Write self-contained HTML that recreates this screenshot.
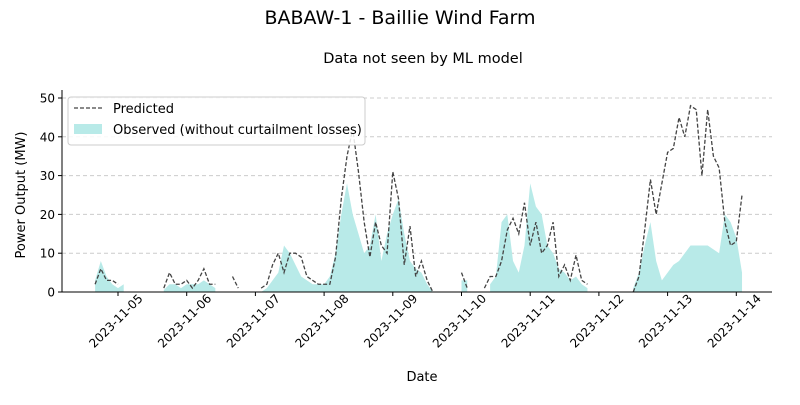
<!DOCTYPE html>
<html><head><meta charset="utf-8">
<style>
body{margin:0;background:#fff;}
svg{font-family:"DejaVu Sans","Liberation Sans",sans-serif;}
</style></head>
<body>
<svg id="chart" width="800" height="400" viewBox="0 0 800 400">
<text x="400" y="24" text-anchor="middle" font-size="19" fill="#000">BABAW-1 - Baillie Wind Farm</text>
<text x="423" y="63" text-anchor="middle" font-size="14.5" fill="#000">Data not seen by ML model</text>
<g id="grid"></g>
<g id="marks"></g>
<g id="axes"></g>
<text transform="translate(25,195) rotate(-90)" text-anchor="middle" font-size="13">Power Output (MW)</text>
<text x="422" y="381" text-anchor="middle" font-size="13">Date</text>
<g>
<rect x="68" y="97" width="297" height="48" rx="3" fill="#fff" fill-opacity="0.85" stroke="#ccc"/>
<line x1="74" y1="108" x2="102" y2="108" stroke="#444" stroke-width="1.3" stroke-dasharray="4,2"/>
<text x="113" y="113" font-size="13">Predicted</text>
<rect x="74" y="124" width="28" height="10" fill="#b8eae8"/>
<text x="113" y="134" font-size="13">Observed (without curtailment losses)</text>
</g>
</svg>
<script>
const startHour = 16; // hours since 2023-11-04 00:00
const stepHours = 2;
const predicted = [2,6,3,3,2,null,null,null,null,null,null,null,1,5,2,2,3,1,3,6,2,2,null,null,4,1,null,null,null,1,2,7,10,5,10,10,9,4,3,2,2,2,9,24,35,42,31,18,9,18,12,10,31,24,7,17,4,8,3,0,null,null,null,null,5,1,null,null,1,4,4,8,16,19,15,23,12,18,10,12,18,4,7,3,9.5,3,2,null,null,null,null,null,null,null,0,4,16,29,20,28,36,37,45,40,48,47,30,47,35,32,18,12,13,25];
const observed = [3,8,4,2,1,2,null,null,null,null,null,null,0.5,2,2,1,2,2,2,3,2,1,null,null,null,null,null,null,null,0,1,3,5,12,10,7,4,3,2,2,2,4,10,20,28,20,15,10,12,20,8,15,20,24,15,8,6,5,2,0,null,null,null,null,3,3,null,null,null,2,4,18,20,8,5,12,28,22,20,12,10,6,5,3,4,2,1,null,null,null,null,null,null,null,1,5,12,18,8,3,5,7,8,10,12,12,12,12,11,10,20,18,14,5];
const yTicks = [0,10,20,30,40,50];
const dateLabels = ["2023-11-05","2023-11-06","2023-11-07","2023-11-08","2023-11-09","2023-11-10","2023-11-11","2023-11-12","2023-11-13","2023-11-14"];

const NS="http://www.w3.org/2000/svg";
const X0=62,X1=772,Y0=292,Y50=98;
const xDay = d => 118 + (d-1)*68.7;      // d = days since Nov 4
const xHour = h => xDay(h/24);
const y = v => Y0 - v*(Y0-Y50)/50;
function mk(tag,attrs,parent){const e=document.createElementNS(NS,tag);for(const k in attrs)e.setAttribute(k,attrs[k]);parent.appendChild(e);return e;}
const grid=document.getElementById('grid'),marks=document.getElementById('marks'),axes=document.getElementById('axes');

yTicks.forEach(v=>{
  if(v>0){const g=mk('line',{x1:X0,x2:X1,y1:y(v),y2:y(v),stroke:'#ccc','stroke-dasharray':'4,3'},grid);
  
  }
  const t=mk('line',{x1:X0-4,x2:X0,y1:y(v),y2:y(v),stroke:'#000'},axes);
  
  
  const l=mk('text',{x:X0-7,y:y(v)+4.5,'text-anchor':'end','font-size':'12'},axes);
  l.textContent=v;
  
  
});
dateLabels.forEach((s,i)=>{
  const xx=xDay(i+1);
  const t=mk('line',{x1:xx,x2:xx,y1:Y0,y2:Y0+4,stroke:'#000'},axes);
  
  
  const l=mk('text',{transform:`translate(${xx-2},${Y0+29}) rotate(-45)`,'text-anchor':'middle','font-size':'12',dy:'4'},axes);
  l.textContent=s;
  
  
});
const sp1=mk('line',{x1:X0,x2:X0,y1:90,y2:Y0,stroke:'#000'},axes);


const sp2=mk('line',{x1:X0,x2:X1,y1:Y0,y2:Y0,stroke:'#000'},axes);



function segments(arr){const segs=[];let cur=[];arr.forEach((v,i)=>{if(v==null){if(cur.length)segs.push(cur);cur=[];}else cur.push([xHour(startHour+i*stepHours),y(v)]);});if(cur.length)segs.push(cur);return segs;}
segments(observed).forEach(s=>{
  let d=`M${s[0][0]},${Y0}`+s.map(p=>`L${p[0]},${p[1]}`).join('')+`L${s[s.length-1][0]},${Y0}Z`;
  const p=mk('path',{d:d,fill:'#b8eae8',stroke:'none'},marks);
  
  
});
segments(predicted).forEach(s=>{
  const d='M'+s.map(p=>p.join(',')).join('L');
  const p=mk('path',{d:d,fill:'none',stroke:'#444','stroke-width':'1.3','stroke-dasharray':'4,2'},marks);
  
  
});
</script>
</body></html>
